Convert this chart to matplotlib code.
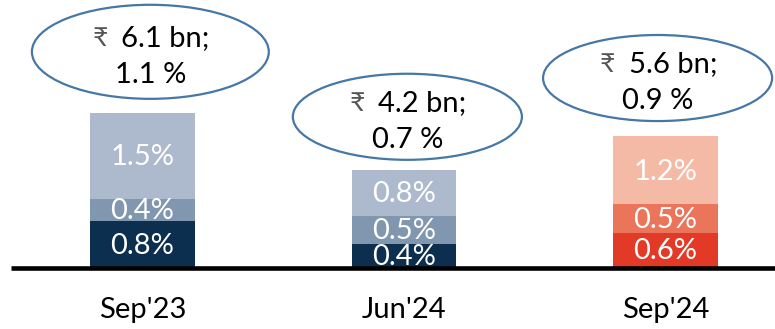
import matplotlib
matplotlib.use("Agg")

import matplotlib.pyplot as plt
from matplotlib.patches import Ellipse

# stacked shares per period (bottom -> top), in %
periods = ["Sep'23", "Jun'24", "Sep'24"]
bottom_share = [0.8, 0.4, 0.6]
middle_share = [0.4, 0.5, 0.5]
top_share = [1.5, 0.8, 1.2]

# callout values
amount_bn = [6.1, 4.2, 5.6]
overall_pct = [1.1, 0.7, 0.9]

blue_shades = ["#0C2F4F", "#8196AF", "#ADB9CC"]
red_shades = ["#E33A27", "#EA755A", "#F5BAA5"]
bar_palettes = [blue_shades, blue_shades, red_shades]

plt.rcParams["font.family"] = ["Lato", "DejaVu Sans"]

fig = plt.figure(figsize=(7.75, 3.29), dpi=100)
ax = fig.add_axes([0, 0, 1, 1])
ax.set_xlim(-0.545, 2.419)
ax.set_ylim(-1.088, 4.684)
ax.axis("off")

px_x = 1 / 261.5   # data units per pixel, x
px_y = 1 / 57.0    # data units per pixel, y

bar_width = 0.40
fs = 21

for i, period in enumerate(periods):
    segs = [bottom_share[i], middle_share[i], top_share[i]]
    base = 0
    for val, col in zip(segs, bar_palettes[i]):
        ax.bar(i, val, bottom=base, width=bar_width, color=col, linewidth=0)
        ax.text(i, base + val / 2 - 1.5 * px_y, f"{val}%", color="white",
                fontsize=fs, ha="center", va="center")
        base += val

    # callout ellipse above the bar
    dx = [0.03, 0.013, -0.03][i]
    gap = [0.25, 0.18, 0.26][i]
    ew = [0.906, 0.876, 0.876][i]
    eh = [1.65, 1.51, 1.51][i]
    cx = i + dx
    cy = base + gap + eh / 2
    ax.add_patch(Ellipse((cx, cy), ew, eh, facecolor="white",
                         edgecolor="#4677A6", linewidth=1.6))
    ax.text(cx - 43 * px_x, cy + 6 * px_y, "₹", color="#555555",
            fontsize=fs - 2, ha="right", va="baseline")
    ax.text(cx - 29 * px_x, cy + 6 * px_y, f"{amount_bn[i]} bn;",
            color="black", fontsize=fs, ha="left", va="baseline")
    ax.text(cx, cy - 31 * px_y, f"{overall_pct[i]} %", color="black",
            fontsize=fs, ha="center", va="baseline")

    ax.text(i, -51 * px_y, period, color="black", fontsize=fs,
            ha="center", va="baseline")

# baseline axis
ax.plot([-0.545 + 11 * px_x, 2.419], [-1.5 * px_y, -1.5 * px_y],
        color="black", linewidth=3.3, solid_capstyle="butt")

fig.savefig("out.png", dpi=100)
